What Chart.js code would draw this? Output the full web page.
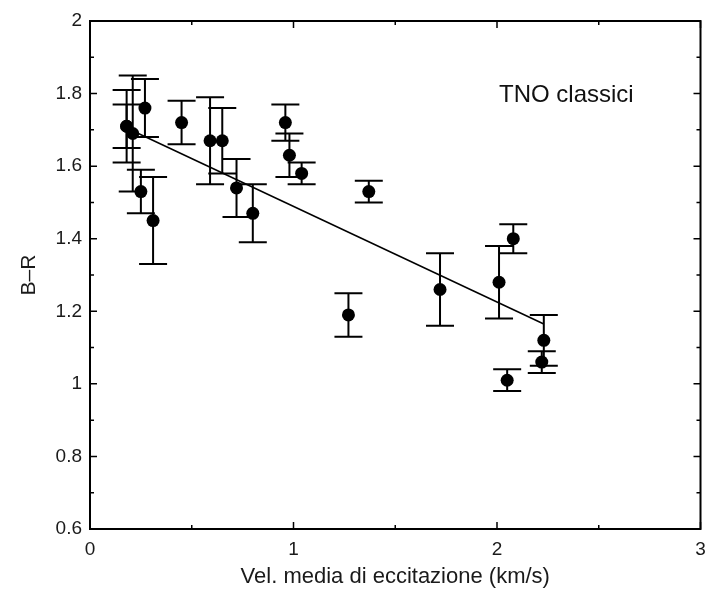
<!DOCTYPE html>
<html>
<head>
<meta charset="utf-8">
<script src="https://cdn.jsdelivr.net/npm/chart.js@4.4.0/dist/chart.umd.min.js"></script>
<style>
  html, body { margin: 0; padding: 0; background: #fff; }
</style>
</head>
<body>
<canvas id="myChart" width="707" height="591"></canvas>
<script>
// data
const xVals = [0.18, 0.18, 0.21, 0.27, 0.25, 0.31, 0.45, 0.59, 0.65, 0.72, 0.80, 0.96, 0.98, 1.04, 1.37, 1.27, 1.72, 2.08, 2.01, 2.23, 2.22, 2.05];
const yVals = [1.71, 1.71, 1.69, 1.76, 1.53, 1.45, 1.72, 1.67, 1.67, 1.54, 1.47, 1.72, 1.63, 1.58, 1.53, 1.19, 1.26, 1.40, 1.28, 1.12, 1.06, 1.01];
const yErr  = [0.06, 0.10, 0.16, 0.08, 0.06, 0.12, 0.06, 0.12, 0.09, 0.08, 0.08, 0.05, 0.06, 0.03, 0.03, 0.06, 0.10, 0.04, 0.10, 0.07, 0.03, 0.03];

// fitted line ends
const fitX = [0.18, 2.23];
const fitY = [1.705, 1.165];

const xMinor = [0.5, 1.5, 2.5];
const yMinor = [0.7, 0.9, 1.1, 1.3, 1.5, 1.7, 1.9];
const xTitle = 'Vel. media di eccitazione (km/s)';
const yTitle = 'B\u2013R';
const noteText = 'TNO classici';
const notePos = [2.01, 1.795];

const points = xVals.map((x, i) => ({ x: x, y: yVals[i] }));
const fitLine = fitX.map((x, i) => ({ x: x, y: fitY[i] }));

// error bars under the dots
const errorBars = {
    id: 'errorBars',
    beforeDatasetsDraw(chart) {
        const c = chart.ctx;
        const xs = chart.scales.x;
        const ys = chart.scales.y;
        c.save();
        c.strokeStyle = '#000';
        c.lineWidth = 2;
        points.forEach((p, i) => {
            const px = xs.getPixelForValue(p.x);
            const top = ys.getPixelForValue(p.y + yErr[i]);
            const bot = ys.getPixelForValue(p.y - yErr[i]);
            c.beginPath();
            c.moveTo(px, top); c.lineTo(px, bot);
            c.moveTo(px - 14, top); c.lineTo(px + 14, top);
            c.moveTo(px - 14, bot); c.lineTo(px + 14, bot);
            c.stroke();
        });
        c.restore();
    }
};

// box around the plot, ticks pointing inward, and the note
const frame = {
    id: 'frame',
    afterDraw(chart) {
        const c = chart.ctx;
        const a = chart.chartArea;
        const xs = chart.scales.x;
        const ys = chart.scales.y;
        c.save();
        c.strokeStyle = '#000';
        c.lineWidth = 2;
        c.strokeRect(a.left, a.top, a.right - a.left, a.bottom - a.top);
        c.lineWidth = 1.5;
        c.beginPath();
        xs.ticks.forEach(t => {
            const px = xs.getPixelForValue(t.value);
            c.moveTo(px, a.bottom); c.lineTo(px, a.bottom - 7);
            c.moveTo(px, a.top); c.lineTo(px, a.top + 7);
        });
        xMinor.forEach(v => {
            const px = xs.getPixelForValue(v);
            c.moveTo(px, a.bottom); c.lineTo(px, a.bottom - 4);
            c.moveTo(px, a.top); c.lineTo(px, a.top + 4);
        });
        ys.ticks.forEach(t => {
            const py = ys.getPixelForValue(t.value);
            c.moveTo(a.left, py); c.lineTo(a.left + 7, py);
            c.moveTo(a.right, py); c.lineTo(a.right - 7, py);
        });
        yMinor.forEach(v => {
            const py = ys.getPixelForValue(v);
            c.moveTo(a.left, py); c.lineTo(a.left + 4, py);
            c.moveTo(a.right, py); c.lineTo(a.right - 4, py);
        });
        c.stroke();

        c.fillStyle = '#111';
        c.font = '24px "Liberation Sans", Arial, sans-serif';
        c.textAlign = 'left';
        c.textBaseline = 'middle';
        c.fillText(noteText, xs.getPixelForValue(notePos[0]), ys.getPixelForValue(notePos[1]));
        c.restore();
    }
};

const ctx = document.getElementById('myChart');

Chart.defaults.font.family = '"Liberation Sans", Arial, sans-serif';
Chart.defaults.color = '#1a1a1a';

new Chart(ctx, {
    type: 'scatter',
    data: {
        datasets: [{
            data: points,
            pointRadius: 6.5,
            pointBackgroundColor: '#000',
            pointBorderWidth: 0
        }, {
            type: 'line',
            data: fitLine,
            borderColor: '#000',
            borderWidth: 1.5,
            pointRadius: 0,
            fill: false
        }]
    },
    options: {
        responsive: false,
        animation: false,
        devicePixelRatio: 1,
        layout: { padding: { top: 21, right: 6, left: 0, bottom: 0 } },
        plugins: {
            legend: { display: false },
            tooltip: { enabled: false }
        },
        scales: {
            x: {
                type: 'linear',
                min: 0,
                max: 3,
                afterFit: s => { s.height = 62; },
                ticks: { stepSize: 1, font: { size: 19 }, padding: 1 },
                grid: { display: false },
                border: { display: false },
                title: { display: true, text: xTitle, font: { size: 22 }, padding: { top: 0, bottom: 1 } }
            },
            y: {
                min: 0.6,
                max: 2,
                afterFit: s => { s.width = 90; },
                ticks: {
                    stepSize: 0.2,
                    font: { size: 19 },
                    padding: 0,
                    callback: v => Math.round(v * 10) / 10
                },
                grid: { display: false },
                border: { display: false },
                title: { display: true, text: yTitle, font: { size: 21 }, padding: { top: 17, bottom: 0 } }
            }
        }
    },
    plugins: [errorBars, frame]
});
</script>
</body>
</html>
